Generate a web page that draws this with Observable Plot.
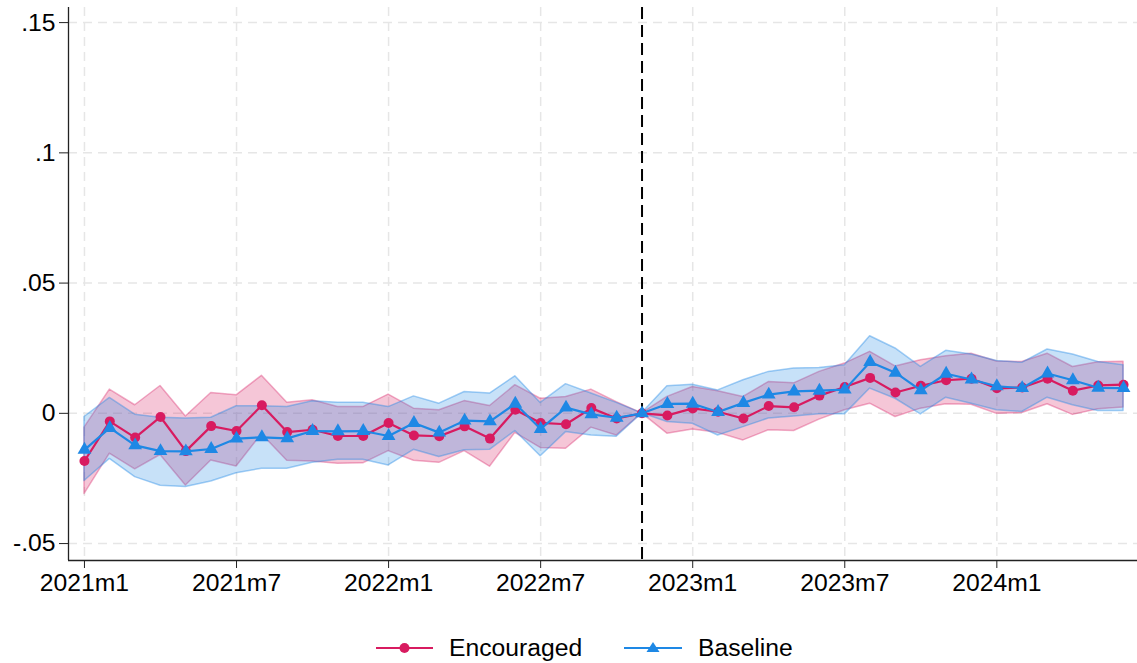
<!DOCTYPE html>
<html>
<head>
<meta charset="utf-8">
<script src="https://cdn.jsdelivr.net/npm/d3@7"></script>
<script src="https://cdn.jsdelivr.net/npm/@observablehq/plot@0.6"></script>
<style>
  html, body { margin: 0; padding: 0; background: #fff; }
  #wrap { position: relative; width: 1137px; height: 663px; font-family: 'Liberation Sans', Arial, sans-serif; }
  #legend { position: absolute; left: 0; top: 631px; width: 1137px; height: 33px; }
  .item { position: absolute; top: 0; height: 33px; display: flex; align-items: center; font-size: 24.7px; color: #000; }
  .item svg { margin-right: 16px; }
</style>
</head>
<body>
<div id="wrap">
  <div id="chart"></div>
  <div id="legend"></div>
</div>
<script>
const months = ["2021m1","2021m2","2021m3","2021m4","2021m5","2021m6","2021m7","2021m8","2021m9","2021m10","2021m11","2021m12",
  "2022m1","2022m2","2022m3","2022m4","2022m5","2022m6","2022m7","2022m8","2022m9","2022m10","2022m11","2022m12",
  "2023m1","2023m2","2023m3","2023m4","2023m5","2023m6","2023m7","2023m8","2023m9","2023m10","2023m11","2023m12",
  "2024m1","2024m2","2024m3","2024m4","2024m5","2024m6"];

const encouraged = [-0.0183,-0.0031,-0.0093,-0.0014,-0.0145,-0.0049,-0.0068,0.0031,-0.0072,-0.0063,-0.0087,-0.0087,
  -0.0037,-0.0085,-0.0088,-0.0050,-0.0097,0.0014,-0.0037,-0.0042,0.0020,-0.0020,0,-0.0008,
  0.0019,0.0006,-0.0020,0.0028,0.0023,0.0068,0.0101,0.0136,0.0080,0.0106,0.0127,0.0133,
  0.0096,0.0099,0.0133,0.0087,0.0107,0.0110];
const encouragedLo = [-0.0310,-0.0155,-0.0215,-0.0160,-0.0277,-0.0181,-0.0204,-0.0080,-0.0182,-0.0185,-0.0194,-0.0192,
  -0.0145,-0.0182,-0.0190,-0.0145,-0.0205,-0.0075,-0.0133,-0.0136,-0.0055,-0.0085,0,-0.0078,
  -0.0062,-0.0075,-0.0104,-0.0065,-0.0068,-0.0024,0.0012,0.0037,-0.0014,0.0018,0.0035,0.0033,
  -0.0002,0.0001,0.0035,-0.0006,0.0016,0.0022];
const encouragedHi = [-0.0055,0.0091,0.0031,0.0105,-0.0012,0.0078,0.0069,0.0144,0.0041,0.0050,0.0024,0.0024,
  0.0072,0.0018,0.0012,0.0047,0.0028,0.0108,0.0056,0.0063,0.0091,0.0043,0,0.0063,
  0.0101,0.0085,0.0063,0.0120,0.0115,0.0159,0.0191,0.0236,0.0180,0.0204,0.0219,0.0229,
  0.0199,0.0197,0.0229,0.0178,0.0196,0.0198];

const baseline = [-0.0140,-0.0056,-0.0123,-0.0145,-0.0146,-0.0137,-0.0097,-0.0092,-0.0096,-0.0068,-0.0069,-0.0068,
  -0.0087,-0.0037,-0.0074,-0.0028,-0.0031,0.0037,-0.0060,0.0022,-0.0004,-0.0017,0,0.0036,
  0.0037,0.0005,0.0040,0.0072,0.0084,0.0087,0.0091,0.0197,0.0156,0.0088,0.0152,0.0130,
  0.0104,0.0097,0.0153,0.0127,0.0098,0.0097];
const baselineLo = [-0.0260,-0.0175,-0.0245,-0.0278,-0.0283,-0.0262,-0.0230,-0.0213,-0.0213,-0.0190,-0.0178,-0.0178,
  -0.0200,-0.0140,-0.0168,-0.0142,-0.0140,-0.0068,-0.0165,-0.0072,-0.0085,-0.0090,0,-0.0033,
  -0.0040,-0.0085,-0.0053,-0.0020,-0.0012,-0.0004,-0.0004,0.0095,0.0056,-0.0004,0.0060,0.0037,
  0.0012,0.0005,0.0060,0.0031,0.0009,0.0009];
const baselineHi = [-0.0014,0.0059,-0.0005,-0.0017,-0.0020,-0.0017,0.0027,0.0027,0.0024,0.0046,0.0041,0.0041,
  0.0024,0.0065,0.0037,0.0082,0.0076,0.0142,0.0040,0.0112,0.0076,0.0040,0,0.0104,
  0.0110,0.0088,0.0127,0.0159,0.0172,0.0174,0.0185,0.0296,0.0249,0.0178,0.0240,0.0226,
  0.0201,0.0194,0.0245,0.0226,0.0197,0.0185];

const yTicks = [-0.05, 0, 0.05, 0.1, 0.15];
const xTickLabels = ["2021m1","2021m7","2022m1","2022m7","2023m1","2023m7","2024m1"];
const eventMonth = "2022m11";
const seriesNames = ["Encouraged", "Baseline"];

const RED = "#D81B60", BLUE = "#1E88E5";
const rows = months.map((m, i) => ({
  i, m,
  enc: encouraged[i], encLo: encouragedLo[i], encHi: encouragedHi[i],
  base: baseline[i], baseLo: baselineLo[i], baseHi: baselineHi[i]
}));
const xTicks = xTickLabels.map(l => months.indexOf(l));
const eventIdx = months.indexOf(eventMonth);
const xDomain = [-0.63, months.length - 1 + 0.55];
const yDomain = [-0.0565, 0.1558];
const fmtY = d => d === 0 ? "0" : String(d).replace("0.", ".");
const grid = {stroke: "#e6e6e6", strokeOpacity: 1, strokeWidth: 1.5, strokeDasharray: "9,6"};
const FS = 24.7;

const chart = Plot.plot({
  width: 1137,
  height: 628,
  marginLeft: 68,
  marginRight: 0,
  marginTop: 7,
  marginBottom: 68,
  style: {fontFamily: "'Liberation Sans', Arial, sans-serif", fontSize: FS + "px", background: "#fff", color: "#000"},
  x: {type: "linear", domain: xDomain},
  y: {domain: yDomain},
  marks: [
    Plot.gridY(yTicks, grid),
    Plot.gridX(xTicks, grid),
    Plot.areaY(rows, {x: "i", y1: "encLo", y2: "encHi", fill: RED, fillOpacity: 0.25, stroke: RED, strokeOpacity: 0.35, strokeWidth: 1.5}),
    Plot.areaY(rows, {x: "i", y1: "baseLo", y2: "baseHi", fill: BLUE, fillOpacity: 0.25, stroke: BLUE, strokeOpacity: 0.4, strokeWidth: 1.5}),
    Plot.ruleX([eventIdx], {stroke: "#000", strokeWidth: 2, strokeDasharray: "12,6"}),
    Plot.lineY(rows, {x: "i", y: "enc", stroke: RED, strokeWidth: 2.2}),
    Plot.dot(rows, {x: "i", y: "enc", fill: RED, r: 5, symbol: "circle"}),
    Plot.lineY(rows, {x: "i", y: "base", stroke: BLUE, strokeWidth: 2.2}),
    Plot.dot(rows, {x: "i", y: "base", fill: BLUE, r: 5.1, symbol: "triangle"}),
    Plot.ruleX([xDomain[0]], {stroke: "#222", strokeWidth: 1.3}),
    Plot.ruleY([yDomain[0]], {stroke: "#222", strokeWidth: 1.3}),
    Plot.axisY({ticks: yTicks, tickFormat: fmtY, tickSize: 9, tickPadding: 4, label: null, fontSize: FS, stroke: "#222"}),
    Plot.axisX({ticks: xTicks, tickFormat: i => months[i], tickSize: 8, tickPadding: 5, label: null, fontSize: FS, stroke: "#222"})
  ]
});
document.getElementById("chart").appendChild(chart);

// legend
const legend = document.getElementById("legend");
const items = [
  {name: seriesNames[0], color: RED, shape: "circle", left: 376, width: 57},
  {name: seriesNames[1], color: BLUE, shape: "triangle", left: 624, width: 58}
];
for (const it of items) {
  const d = document.createElement("div");
  d.className = "item";
  d.style.left = it.left + "px";
  const c = it.width / 2;
  const marker = it.shape === "circle"
    ? `<circle cx="${c}" cy="12" r="5" fill="${it.color}"/>`
    : `<path d="M${c},6 L${c + 6.5},16 L${c - 6.5},16 Z" fill="${it.color}"/>`;
  d.innerHTML = `<svg width="${it.width}" height="24"><line x1="0" y1="12" x2="${it.width}" y2="12" stroke="${it.color}" stroke-width="2"/>${marker}</svg><span>${it.name}</span>`;
  legend.appendChild(d);
}
</script>
</body>
</html>
